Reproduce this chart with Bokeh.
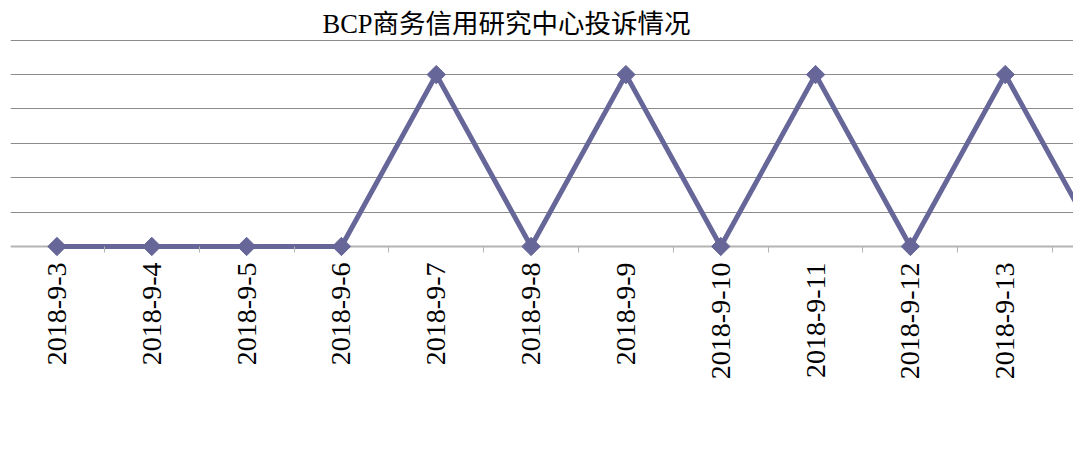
import math
from bokeh.plotting import figure
from bokeh.models import FixedTicker, Range1d, Span
from bokeh.embed import file_html
from bokeh.resources import INLINE

title_text = "BCP商务信用研究中心投诉情况"
dates = ["2018-9-3", "2018-9-4", "2018-9-5", "2018-9-6", "2018-9-7", "2018-9-8",
         "2018-9-9", "2018-9-10", "2018-9-11", "2018-9-12", "2018-9-13", "2018-9-14"]
counts = [0, 0, 0, 0, 5, 0, 5, 0, 5, 0, 5, 0]
y_ticks = [0, 1, 2, 3, 4, 5, 6]

xs = list(range(len(dates)))

p = figure(width=1073, height=449, output_backend="svg", toolbar_location=None,
           x_range=Range1d(-0.49, 10.72), y_range=Range1d(-0.35, 6.05),
           min_border_left=10, min_border_right=0, min_border_top=38, min_border_bottom=191)
p.outline_line_color = None
p.background_fill_color = "white"
p.border_fill_color = "white"

p.title.text = title_text
p.title.align = "left"
p.title.offset = 312
p.title.standoff = 0
p.title.text_font = "'Liberation Serif', 'Noto Sans CJK SC'"
p.title.text_font_size = "26.5px"
p.title.text_font_style = "normal"
p.title.text_color = "black"

p.yaxis.visible = False
p.ygrid.ticker = FixedTicker(ticks=[t for t in y_ticks if t != 0])
p.ygrid.grid_line_color = "#8c8c8c"
p.ygrid.grid_line_width = 1
p.xgrid.grid_line_color = None

# baseline (value 0) drawn as the category axis line
p.add_layout(Span(location=y_ticks[0], dimension="width", line_color="#b4b4b4",
                  line_width=2, level="underlay"))

ax = p.xaxis[0]
ax.ticker = FixedTicker(ticks=xs, minor_ticks=[i + 0.5 for i in range(-1, len(dates))])
ax.major_label_overrides = {i: d for i, d in enumerate(dates)}
ax.major_label_orientation = math.pi / 2
ax.major_label_text_font = "Liberation Serif"
ax.major_label_text_font_size = "28px"
ax.major_label_text_color = "black"
ax.major_label_standoff = 4
ax.major_tick_out = 0
ax.major_tick_in = 0
ax.minor_tick_in = 12
ax.minor_tick_out = -6
ax.minor_tick_line_color = "#b4b4b4"
ax.minor_tick_line_width = 1
ax.axis_line_color = None

color = "#666699"
p.line(xs, counts, line_color=color, line_width=5)
p.scatter(xs, counts, marker="square", angle=math.pi / 4, size=13,
          fill_color=color, line_color=color)

open("out.html", "w").write(file_html(p, INLINE))
